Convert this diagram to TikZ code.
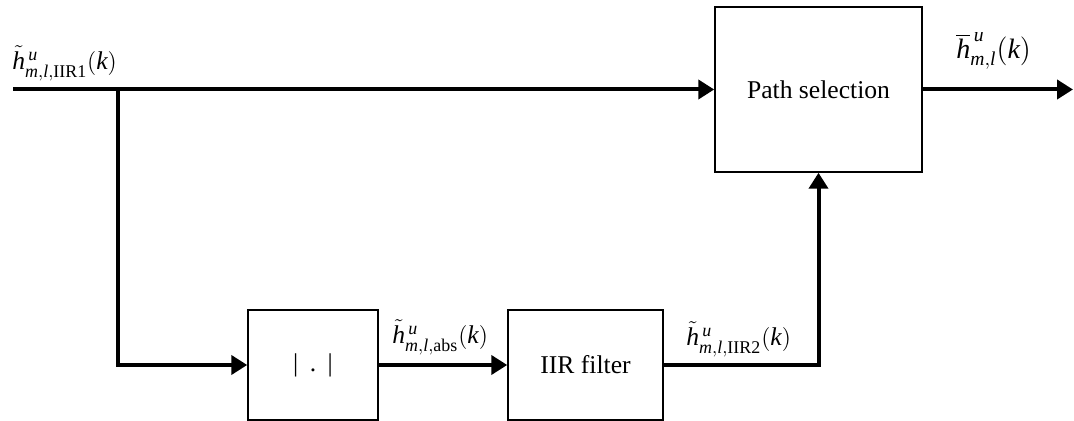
\documentclass[tikz,border=0pt]{standalone}
\usepackage{amsmath}
\usepackage{fontspec}
\setmainfont{Liberation Serif}
\usetikzlibrary{arrows.meta}

\begin{document}
\begin{tikzpicture}[
  x=0.5pt, y=-0.5pt,
  font=\fontsize{12.8}{15}\selectfont,
  block/.style={draw, line width=0.75pt, inner sep=0pt, minimum height=55pt},
  sig/.style={line width=2pt, -{Triangle[length=8pt,width=9.5pt]}},
  lbl/.style={anchor=south west, inner sep=0pt}
]
\useasboundingbox (0,0) rectangle (1074,421);

% blocks
\node[block, minimum width=103.5pt, minimum height=82.5pt] (ps) at (818.5,89.5) {Path selection};
\node[block, minimum width=65pt] (absb) at (313,365) {|\hspace{0.45em}.\hspace{0.45em}|};
\node[block, minimum width=77.5pt] (iir) at (585.5,365) {IIR filter};

% free ends and branch point
\coordinate (in) at (13,89.5);
\coordinate (br) at (118,89.5);
\coordinate (out) at (1073,89.5);

% signal paths
\draw[sig] (in) -- (ps.west);
\draw[sig] (br) |- (absb.west);
\draw[sig] (absb.east) -- (iir.west);
\draw[sig] (iir.east) -| (ps.south);
\draw[sig] (ps.east) -- (out);

% signal labels
\node[lbl] (l1) at (12,81) {$\tilde{\mathit{h}}^{\,\mathit{u}}_{\mathit{m},\mathit{l},\mathrm{IIR1}}(\mathit{k})$};
\node[lbl, font=\fontsize{14}{16}\selectfont] (l2) at (956,70) {$\overline{\mathit{h}}^{\,\mathit{u}}_{\mathit{m},\mathit{l}}(\mathit{k})$};
\node[lbl] (l3) at (392,355) {$\tilde{\mathit{h}}^{\,\mathit{u}}_{\mathit{m},\mathit{l},\mathrm{abs}}(\mathit{k})$};
\node[lbl] (l4) at (686,357) {$\tilde{\mathit{h}}^{\,\mathit{u}}_{\mathit{m},\mathit{l},\mathrm{IIR2}}(\mathit{k})$};
\end{tikzpicture}
\end{document}
